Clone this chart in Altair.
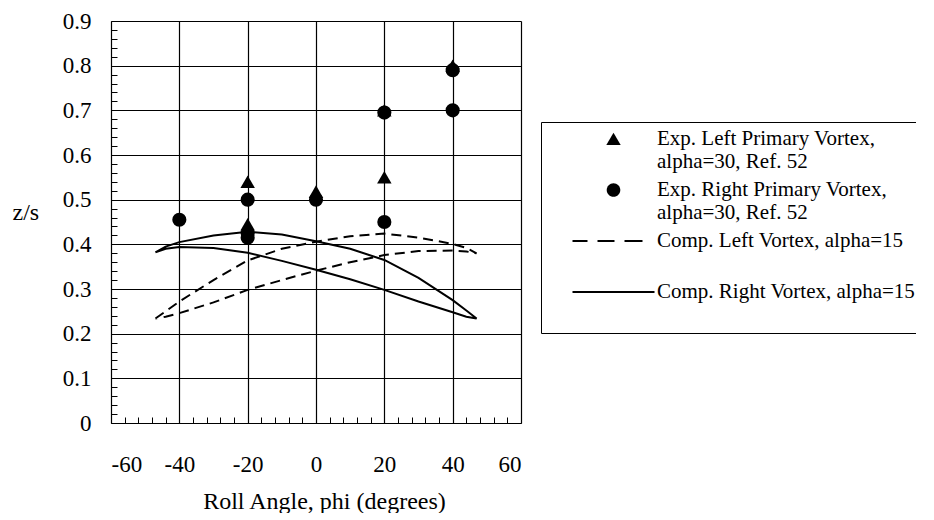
import json
import altair as alt
import pandas as pd

# ---------------- data ----------------
# Experimental points (alpha=30, Ref. 52)
left_exp_phi = [-20, -20, 0, 20, 20, 40]
left_exp_z = [0.54, 0.445, 0.518, 0.70, 0.55, 0.80]

right_exp_phi = [-40, -20, -20, -20, 0, 20, 20, 40, 40]
right_exp_z = [0.455, 0.50, 0.425, 0.415, 0.50, 0.695, 0.45, 0.79, 0.70]

# Computed vortex loci (alpha=15): closed-ish loops, listed in drawing order
comp_left_phi = [-47, -44, -40, -30, -20, -10, 0, 10, 20, 30, 40, 44, 47,
                 44, 40, 30, 20, 10, 0, -10, -20, -30, -40, -44, -47]
comp_left_z = [0.234, 0.250, 0.272, 0.320, 0.364, 0.390, 0.406, 0.418, 0.424, 0.415, 0.401, 0.392, 0.380,
               0.384, 0.386, 0.385, 0.376, 0.360, 0.341, 0.320, 0.298, 0.270, 0.246, 0.238, 0.234]

comp_right_phi = [-47, -44, -40, -30, -20, -10, 0, 10, 20, 30, 40, 44, 47,
                  44, 40, 30, 20, 10, 0, -10, -20, -30, -40, -44, -47]
comp_right_z = [0.382, 0.395, 0.405, 0.420, 0.428, 0.422, 0.407, 0.390, 0.365, 0.325, 0.275, 0.252, 0.234,
                0.238, 0.248, 0.272, 0.298, 0.322, 0.343, 0.363, 0.381, 0.392, 0.394, 0.390, 0.382]

x_ticks = [-60, -40, -20, 0, 20, 40, 60]
y_ticks = [0, 0.1, 0.2, 0.3, 0.4, 0.5, 0.6, 0.7, 0.8, 0.9]
x_minor = list(range(-60, 61, 4))
y_minor = [round(i * 0.02, 2) for i in range(46)]

series_names = [
    "Exp. Left Primary Vortex, alpha=30, Ref. 52",
    "Exp. Right Primary Vortex, alpha=30, Ref. 52",
    "Comp. Left Vortex, alpha=15",
    "Comp. Right Vortex, alpha=15",
]
# how each legend label is broken into lines (as in the reference box)
legend_lines = [
    ["Exp. Left Primary Vortex,", "alpha=30, Ref. 52"],
    ["Exp. Right Primary Vortex,", "alpha=30, Ref. 52"],
    ["Comp. Left Vortex, alpha=15", ""],
    ["Comp. Right Vortex, alpha=15", ""],
]

# ---------------- frames ----------------
tri_df = pd.DataFrame({"phi": left_exp_phi, "z": left_exp_z})
cir_df = pd.DataFrame({"phi": right_exp_phi, "z": right_exp_z})
cl_df = pd.DataFrame({"phi": comp_left_phi, "z": comp_left_z, "ord": range(len(comp_left_phi))})
cr_df = pd.DataFrame({"phi": comp_right_phi, "z": comp_right_z, "ord": range(len(comp_right_phi))})
leg_df = pd.DataFrame({"series": series_names, "phi": [0] * 4, "z": [0] * 4})

label_expr = ""
for name, lines in zip(series_names, legend_lines):
    label_expr += f"datum.label == {json.dumps(name)} ? {json.dumps(lines)} : "
label_expr += "datum.label"

FONT = "Liberation Serif"
W, H = 410, 402

xscale = alt.Scale(domain=[-60, 60], nice=False, zero=False)
yscale = alt.Scale(domain=[0, 0.9], nice=False, zero=False)

main_x_axis = alt.Axis(
    orient="bottom", values=x_ticks, labelExpr="'' + datum.value", grid=True, gridColor="black",
    gridWidth=1.2, gridOpacity=1, ticks=False, domain=False, labelFont=FONT,
    labelFontSize=23, labelColor="black", labelPadding=30,
    title="Roll Angle, phi (degrees)", titleFont=FONT, titleFontSize=24,
    titleFontWeight="normal", titleColor="black", titleX=213, titleY=85,
    titleBaseline="alphabetic",
)
main_y_axis = alt.Axis(
    orient="left", values=y_ticks, format=".1~f", grid=True, gridColor="black",
    gridWidth=1.2, gridOpacity=1, ticks=False, domain=False, labelFont=FONT,
    labelFontSize=23, labelColor="black", labelPadding=20,
    title="z/s", titleFont=FONT, titleFontSize=24, titleFontWeight="normal",
    titleColor="black", titleAngle=0, titleAlign="left", titleBaseline="alphabetic",
    titleX=-99, titleY=198,
)
minor_x_axis = alt.Axis(
    orient="top", offset=-H, values=x_minor, labels=False, domain=False, grid=False,
    ticks=True, tickSize=6, tickColor="black", tickWidth=1, title=None,
)
minor_y_axis = alt.Axis(
    orient="right", offset=-W, values=y_minor, labels=False, domain=False, grid=False,
    ticks=True, tickSize=6, tickColor="black", tickWidth=1, title=None,
)

# legend glyphs (custom filled symbol paths, unit = sqrt(symbolSize)/2 = 10 px)
tri_path = "M0,-0.62L0.72,0.6L-0.72,0.6Z"
cir_path = "M-0.68,0A0.68,0.68,0,1,0,0.68,0A0.68,0.68,0,1,0,-0.68,0Z"
dash_path = ("M-4.1,-0.1H-2.6V0.1H-4.1Z"
             "M-1.6,-0.1H0.1V0.1H-1.6Z"
             "M1.1,-0.1H2.9V0.1H1.1Z")
solid_path = "M-4.1,-0.1H4.1V0.1H-4.1Z"

lines_left = alt.Chart(cl_df).mark_line(color="black", strokeWidth=2, strokeDash=[10, 6]).encode(
    x=alt.X("phi:Q", scale=xscale, axis=main_x_axis),
    y=alt.Y("z:Q", scale=yscale, axis=main_y_axis),
    order="ord:Q",
)
lines_right = alt.Chart(cr_df).mark_line(color="black", strokeWidth=2).encode(
    x=alt.X("phi:Q", scale=xscale, axis=None),
    y=alt.Y("z:Q", scale=yscale, axis=None),
    order="ord:Q",
)
tri = alt.Chart(tri_df).mark_point(shape="triangle-up", filled=True, size=210, color="black", opacity=1).encode(
    x=alt.X("phi:Q", scale=xscale, axis=None),
    y=alt.Y("z:Q", scale=yscale, axis=None),
)
cir = alt.Chart(cir_df).mark_point(shape="circle", filled=True, size=200, color="black", opacity=1).encode(
    x=alt.X("phi:Q", scale=xscale, axis=None),
    y=alt.Y("z:Q", scale=yscale, axis=None),
)
legend_layer = alt.Chart(leg_df).mark_point(filled=True, color="black", opacity=0).encode(
    x=alt.X("phi:Q", scale=xscale, axis=minor_x_axis),
    y=alt.Y("z:Q", scale=yscale, axis=minor_y_axis),
    shape=alt.Shape(
        "series:N",
        scale=alt.Scale(domain=series_names, range=[tri_path, cir_path, dash_path, solid_path]),
        legend=alt.Legend(
            title=None, orient="none", legendX=430, legendY=101, padding=8,
            strokeColor="black", fillColor="white",
            symbolSize=400, symbolFillColor="black", symbolStrokeColor="black",
            symbolStrokeWidth=0, symbolOpacity=1, symbolOffset=54, labelOffset=33,
            labelFont=FONT, labelFontSize=21, labelColor="black", labelLimit=700,
            labelBaseline="middle", labelExpr=label_expr,
            clipHeight=18, rowPadding=7,
        ),
    ),
)

chart = alt.layer(lines_left, lines_right, tri, cir, legend_layer).resolve_axis(
    x="independent", y="independent"
).properties(
    width=W, height=H,
    autosize=alt.AutoSizeParams(type="none"),
    padding={"left": 103, "top": 13, "right": 395, "bottom": 90},
    background="white",
).configure_view(stroke="black", strokeWidth=2).configure(font=FONT)

chart.save("out.html", embed_options={"renderer": "svg", "actions": False})
